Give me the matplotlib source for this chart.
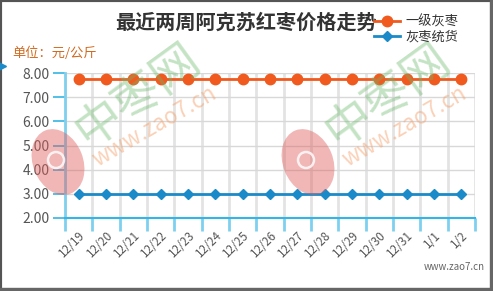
import matplotlib
matplotlib.use("Agg")
import matplotlib.pyplot as plt
from matplotlib.patches import Ellipse, Rectangle
from matplotlib.transforms import IdentityTransform
import numpy as np

plt.rcParams['font.family'] = ['Noto Sans CJK SC', 'DejaVu Sans']

dates = ['12/19', '12/20', '12/21', '12/22', '12/23', '12/24', '12/25', '12/26',
         '12/27', '12/28', '12/29', '12/30', '12/31', '1/1', '1/2']
grade1 = [7.75] * 15
tonghuo = [3.00] * 15
yticks = [2, 3, 4, 5, 6, 7, 8]

W, H = 493, 291
fig = plt.figure(figsize=(W / 100, H / 100), dpi=100)

def fx(px):
    return px / W

def fy(py):
    return 1 - py / H

ax = fig.add_axes([fx(65), fy(217.7), fx(475) - fx(65), fy(73.3) - fy(217.7)])
x = np.arange(len(dates))

ax.set_xlim(-0.5, len(dates) - 0.5)
ax.set_ylim(2, 8)
ax.set_yticks(yticks)
ax.set_yticklabels(['%.2f' % v for v in yticks], fontsize=10, color='#555555')
ax.set_xticks(x)
ax.set_xticklabels(dates, rotation=45, fontsize=8.5, color='#555555',
                   ha='right', rotation_mode='anchor')
ax.tick_params(axis='x', length=0, pad=8)
ax.set_xticks(np.arange(-0.5, len(dates)), minor=True)
ax.tick_params(axis='x', which='minor', length=9, width=2, color='#7fd0ef', direction='out')
ax.tick_params(axis='y', length=9, width=1.2, color='#33b5e5', pad=2)

ax.grid(axis='y', color='#d8d8d8', linewidth=1)
ax.grid(axis='x', which='minor', color='#e3e3e3', linewidth=2)
ax.set_axisbelow(True)
for s in ['top', 'right']:
    ax.spines[s].set_visible(False)
ax.spines['left'].set_color('#7fd0ef')
ax.spines['left'].set_linewidth(2)
ax.spines['bottom'].set_color('#33b5e5')
ax.spines['bottom'].set_linewidth(1.5)

ax.plot(x, grade1, color='#f05a1e', linewidth=2, marker='o', markersize=7.5, label='一级灰枣')
ax.plot(x, tonghuo, color='#1a8bc8', linewidth=2, marker='D', markersize=5, label='灰枣统货')

# watermarks (pixel coordinates)
pix = IdentityTransform()
for dx in [0, 250]:
    fig.text(fx(138 + dx), fy(95), '中枣网', fontsize=34, color='#6cb86c', alpha=0.4,
             rotation=36, ha='center', va='center')
    fig.text(fx(155 + dx), fy(127), 'www.zao7.cn', fontsize=16, color='#f59a60', alpha=0.45,
             rotation=30, ha='center', va='center')
    fig.patches.append(Ellipse((58 + dx, H - 162), 50, 68, angle=22, transform=pix,
                               facecolor='#e06060', edgecolor='none', alpha=0.45))
    fig.patches.append(Ellipse((56 + dx, H - 160), 16, 16, transform=pix,
                               facecolor='none', edgecolor='white', linewidth=1.8, alpha=0.8))

fig.text(fx(246), fy(22), '最近两周阿克苏红枣价格走势', fontsize=14.5, fontweight='bold',
         color='#333333', ha='center', va='center')
fig.text(fx(12), fy(53), '单位：元/公斤', fontsize=9.5, color='#d2691e', ha='left', va='center')
fig.text(fx(485), fy(267), 'www.zao7.cn', fontsize=7, color='#666666', ha='right', va='center')

leg = fig.legend(loc='upper left', bbox_to_anchor=(fx(374), fy(15)), frameon=False,
                 fontsize=9.5, handlelength=2, handletextpad=0.4, labelspacing=0.2,
                 borderaxespad=0, borderpad=0)
for t in leg.get_texts():
    t.set_color('#333333')

fig.lines.append(plt.Line2D([fx(2)], [fy(66)], marker='>', color='#1a8bc8', markersize=6,
                            transform=fig.transFigure))

# frame
fig.patches.append(Rectangle((0, 0), 1, 1, transform=fig.transFigure, fill=False,
                             edgecolor='#555555', linewidth=3))
fig.patches.append(Rectangle((fx(490), 0), fx(3), 1, transform=fig.transFigure,
                             color='#666666'))
fig.patches.append(Rectangle((0, 0), 1, fy(288), transform=fig.transFigure,
                             color='#666666'))

fig.savefig('out.png', dpi=100)
